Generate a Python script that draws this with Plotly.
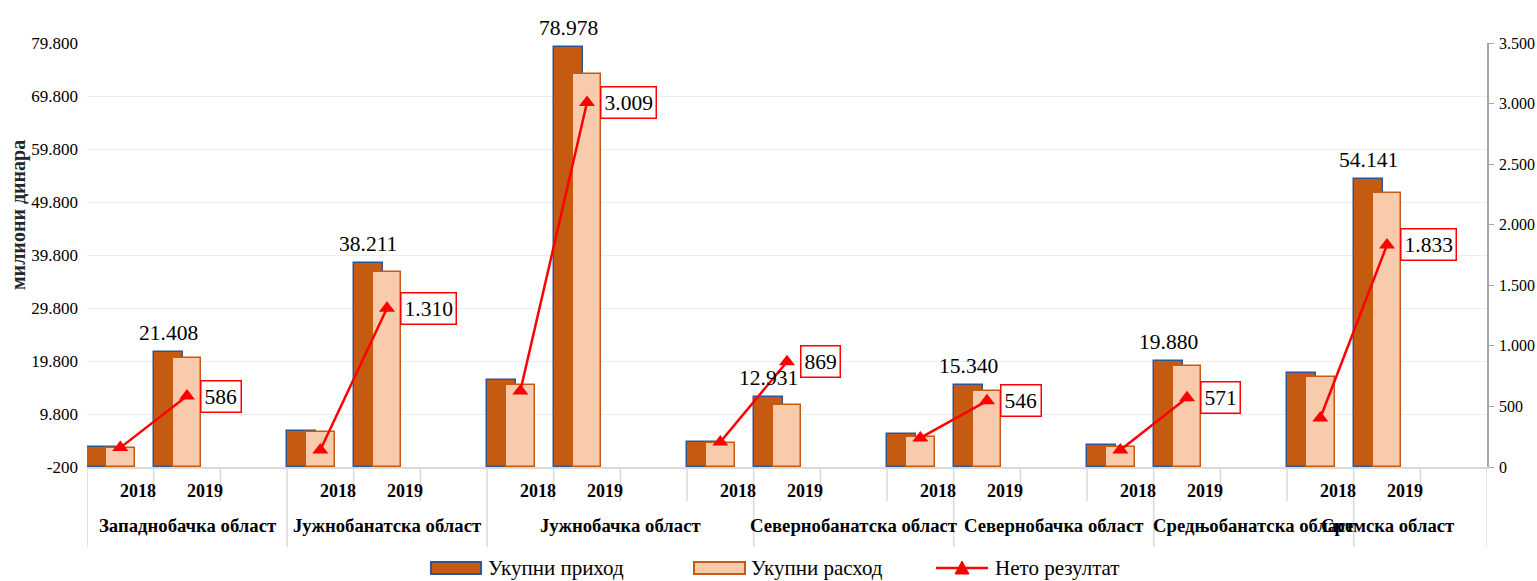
import plotly.graph_objects as go

# ---------------- data ----------------
regions = ["Западнобачка област", "Јужнобанатска област", "Јужнобачка област",
           "Севернобанатска област", "Севернобачка област", "Средњобанатска област",
           "Сремска област"]
years = ["2018", "2019"]
prihod_2018 = [3630, 6590, 16215, 4580, 5970, 3950, 17480]
prihod_2019 = [21408, 38211, 78978, 12931, 15340, 19880, 54141]
rashod_2018 = [3440, 6340, 15270, 4270, 5520, 3630, 16840]
rashod_2019 = [20420, 36590, 73890, 11500, 14140, 18910, 51500]
neto_2018 = [160, 140, 627, 206, 240, 140, 404]
neto_2019 = [586, 1310, 3009, 869, 546, 571, 1833]

left_tickvals = [-200, 9800, 19800, 29800, 39800, 49800, 59800, 69800, 79800]
left_ticktext = ["-200", "9.800", "19.800", "29.800", "39.800", "49.800", "59.800", "69.800", "79.800"]
right_tickvals = [0, 500, 1000, 1500, 2000, 2500, 3000, 3500]
right_ticktext = ["0", "500", "1.000", "1.500", "2.000", "2.500", "3.000", "3.500"]

series_names = ["Укупни приход", "Укупни расход", "Нето резултат"]
y_title = "милиони динара"

# ---------------- styling ----------------
FONT = "Liberation Serif"
DARK = "#c55a11"
DARK_EDGE = "#2f5597"
LIGHT = "#f8cbad"
RED = "#ff0000"
GRID = "#ededed"
AXIS = "#d9d9d9"

W, H = 1537, 581
ML, MR, MT, MB = 87, 50, 43, 114
PW = W - ML - MR
PH = H - MT - MB


def px_x(p):
    return (p - ML) / PW


def px_y(p):
    return (H - MB - p) / PH


def fmt(v):
    return f"{v:,}".replace(",", ".")


# slot positions: each region has 3 slots (2018, 2019, empty)
x_bars, prihod, rashod = [], [], []
x_line, neto = [], []
for r in range(len(regions)):
    for j, (p, q, n) in enumerate([(prihod_2018[r], rashod_2018[r], neto_2018[r]),
                                    (prihod_2019[r], rashod_2019[r], neto_2019[r])]):
        x_bars.append(3 * r + j)
        prihod.append(p)
        rashod.append(q)
        x_line.append(3 * r + j)
        neto.append(n)
    x_line.append(3 * r + 2)
    neto.append(None)

fig = go.Figure()
fig.add_trace(go.Bar(
    x=x_bars, y=[v + 200 for v in prihod], base=-200, name=series_names[0],
    offset=-0.5, width=0.435,
    marker=dict(color=DARK, line=dict(color=DARK_EDGE, width=1.5)),
    showlegend=False, hoverinfo="skip"))
fig.add_trace(go.Bar(
    x=x_bars, y=[v + 200 for v in rashod], base=-200, name=series_names[1],
    offset=-0.215, width=0.428,
    marker=dict(color=LIGHT, line=dict(color=DARK, width=1.5)),
    showlegend=False, hoverinfo="skip"))
fig.add_trace(go.Scatter(
    x=x_line, y=neto, name=series_names[2], yaxis="y2", mode="lines+markers",
    connectgaps=False,
    line=dict(color=RED, width=2.5),
    marker=dict(symbol="triangle-up", size=14, color=RED),
    showlegend=False, hoverinfo="skip"))

annotations = []
shapes = []

# data labels: 2019 income above dark bars, net result boxes
for r in range(len(regions)):
    annotations.append(dict(
        x=3 * r + 1 - 0.2825, y=prihod_2019[r], xref="x", yref="y",
        text=fmt(prihod_2019[r]), showarrow=False, yanchor="bottom", yshift=5,
        font=dict(family=FONT, size=21.5, color="#000000")))
    annotations.append(dict(
        x=3 * r + 1, y=neto_2019[r], xref="x", yref="y2",
        text=fmt(neto_2019[r]), showarrow=False, xanchor="left", yanchor="middle",
        xshift=13, bgcolor="#ffffff", bordercolor=RED, borderwidth=1.5, borderpad=3,
        font=dict(family=FONT, size=21.5, color="#000000")))

# year labels (shifted to the right like in the original)
for r in range(len(regions)):
    for j, yr in enumerate(years):
        annotations.append(dict(
            x=3 * r + j, y=0, xref="x", yref="paper", text=f"<b>{yr}</b>",
            showarrow=False, xanchor="center", yanchor="middle", xshift=18, yshift=-24,
            font=dict(family=FONT, size=18, color="#000000")))

# region labels
region_centers = [1, 4, 7.5, 11, 14, 17, 19]
for name, c in zip(regions, region_centers):
    annotations.append(dict(
        x=c, y=0, xref="x", yref="paper", text=f"<b>{name}</b>",
        showarrow=False, xanchor="center", yanchor="middle", yshift=-58,
        font=dict(family=FONT, size=18.7, color="#000000")))

# axis separator lines
long_lines = [-0.5, 2.5, 5.5, 9.5, 12.5, 15.5, 18.5, 20.5]
for k in range(-1, 21):
    xb = k + 0.5
    length = -80 if xb in long_lines else -34
    shapes.append(dict(type="line", xref="x", yref="paper", ysizemode="pixel",
                       yanchor=0, x0=xb, x1=xb, y0=0, y1=length,
                       line=dict(color=AXIS, width=1.5)))

# y-axis title
annotations.append(dict(
    x=px_x(18), y=px_y(215), xref="paper", yref="paper", text=f"<b>{y_title}</b>",
    textangle=-90, showarrow=False, xanchor="center", yanchor="middle",
    font=dict(family=FONT, size=20, color="#262626")))

# manual legend
ly = 568
shapes.append(dict(type="rect", xref="paper", yref="paper",
                   x0=px_x(431), x1=px_x(481), y0=px_y(574), y1=px_y(562),
                   fillcolor=DARK, line=dict(color=DARK_EDGE, width=2)))
shapes.append(dict(type="rect", xref="paper", yref="paper",
                   x0=px_x(694), x1=px_x(745), y0=px_y(574), y1=px_y(562),
                   fillcolor=LIGHT, line=dict(color=DARK, width=2)))
shapes.append(dict(type="line", xref="paper", yref="paper",
                   x0=px_x(936), x1=px_x(988), y0=px_y(ly), y1=px_y(ly),
                   line=dict(color=RED, width=2.5)))
tx, ty = 962, ly
shapes.append(dict(type="path", xref="paper", yref="paper",
                   path=f"M {px_x(tx-7)},{px_y(ty+6)} L {px_x(tx+7)},{px_y(ty+6)} "
                        f"L {px_x(tx)},{px_y(ty-7)} Z",
                   fillcolor=RED, line=dict(color=RED, width=1)))
for name, xl in zip(series_names, [486, 749, 993]):
    annotations.append(dict(
        x=px_x(xl), y=px_y(ly), xref="paper", yref="paper", text=name,
        showarrow=False, xanchor="left", yanchor="middle",
        font=dict(family=FONT, size=21, color="#000000")))

fig.update_layout(
    width=W, height=H,
    margin=dict(l=ML, r=MR, t=MT, b=MB, pad=0, autoexpand=False),
    paper_bgcolor="#ffffff", plot_bgcolor="#ffffff",
    barmode="overlay", bargap=0,
    font=dict(family=FONT, size=17, color="#000000"),
    xaxis=dict(range=[-0.5, 20.5], showticklabels=False, showgrid=False,
               zeroline=False, showline=True, linecolor=AXIS, linewidth=2,
               ticks="", fixedrange=True, automargin=False),
    yaxis=dict(range=[-200, 79800], tickvals=left_tickvals, ticktext=left_ticktext,
               showgrid=True, gridcolor=GRID, gridwidth=1, zeroline=False,
               showline=False, ticks="", ticklabelstandoff=8, automargin=False,
               tickfont=dict(family=FONT, size=17, color="#000000")),
    yaxis2=dict(range=[0, 3500], tickvals=right_tickvals, ticktext=right_ticktext,
                overlaying="y", side="right", showgrid=False, zeroline=False,
                showline=True, linecolor="#a6a6a6", linewidth=1.5, automargin=False,
                ticks="outside", ticklen=5, tickcolor="#a6a6a6", ticklabelstandoff=2,
                tickfont=dict(family=FONT, size=16, color="#000000")),
    annotations=annotations,
    shapes=shapes,
    showlegend=False,
)

fig.write_html(
    "out.html",
    config={"displayModeBar": False},
    post_script="document.body.style.margin='0';document.body.style.overflow='hidden';",
)
